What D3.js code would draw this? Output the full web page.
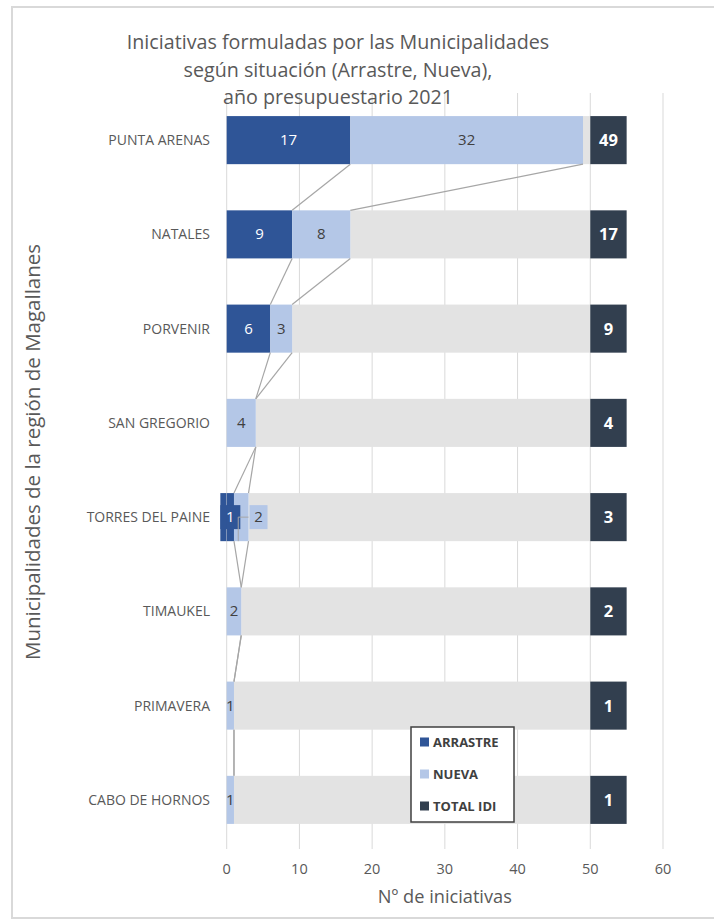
<!DOCTYPE html>
<html>
<head>
<meta charset="utf-8">
<script src="https://cdn.jsdelivr.net/npm/d3@7"></script>
<style>
  body { margin: 0; background: #fff; }
  svg { font-family: "Open Sans", Lato, sans-serif; }
</style>
</head>
<body>
<svg id="chart" width="714" height="920"></svg>
<script>
// data
const municipios = ['PUNTA ARENAS', 'NATALES', 'PORVENIR', 'SAN GREGORIO',
  'TORRES DEL PAINE', 'TIMAUKEL', 'PRIMAVERA', 'CABO DE HORNOS'];
const arrastre = [17, 9, 6, null, 1, null, null, null];
const nueva = [32, 8, 3, 4, 2, 2, 1, 1];
const totalIdi = [49, 17, 9, 4, 3, 2, 1, 1];
const xTicks = [0, 10, 20, 30, 40, 50, 60];
const titleLines = ['Iniciativas formuladas por las Municipalidades',
  'según situación (Arrastre, Nueva),', 'año presupuestario 2021'];
const legendItems = ['ARRASTRE', 'NUEVA', 'TOTAL IDI'];

const colors = {arrastre: '#2F5597', nueva: '#B4C7E7', relleno: '#E3E3E3', total: '#323F4F'};
const grey = '#595959';

const svg = d3.select('#chart');

// chart border
svg.append('rect')
  .attr('x', 12).attr('y', 7)
  .attr('width', 720).attr('height', 911)
  .attr('fill', '#fff')
  .attr('stroke', '#d9d9d9')
  .attr('stroke-width', 2);

const x = d3.scaleLinear().domain([0, 60]).range([226.7, 663]);
const y = d3.scaleBand().domain(municipios).range([93, 847]).paddingInner(0.49).paddingOuter(0.245);
const bh = y.bandwidth();

// rows
const rows = municipios.map((m, i) => {
  const a = arrastre[i] || 0;
  return {m, a, aNull: arrastre[i] == null, n: nueva[i], t: totalIdi[i], endA: a, endN: a + nueva[i]};
});

// gridlines
svg.append('g')
  .selectAll('line')
  .data(xTicks)
  .enter()
  .append('line')
  .attr('x1', d => x(d)).attr('x2', d => x(d))
  .attr('y1', 93).attr('y2', 849)
  .attr('stroke', '#d9d9d9')
  .attr('stroke-width', 1);

// tick labels
svg.append('g')
  .selectAll('text')
  .data(xTicks)
  .enter()
  .append('text')
  .attr('x', d => x(d))
  .attr('y', 874)
  .attr('text-anchor', 'middle')
  .attr('font-size', 14.5)
  .attr('fill', grey)
  .text(d => d);

// filler bars (total up to 50)
svg.append('g')
  .selectAll('rect')
  .data(rows)
  .enter()
  .append('rect')
  .attr('x', d => x(d.endN))
  .attr('width', d => x(50) - x(d.endN))
  .attr('y', d => y(d.m))
  .attr('height', bh)
  .attr('fill', colors.relleno);

// arrastre
svg.append('g')
  .selectAll('rect')
  .data(rows.filter(d => !d.aNull))
  .enter()
  .append('rect')
  .attr('x', x(0))
  .attr('width', d => x(d.a) - x(0))
  .attr('y', d => y(d.m))
  .attr('height', bh)
  .attr('fill', colors.arrastre);

// nueva
svg.append('g')
  .selectAll('rect')
  .data(rows)
  .enter()
  .append('rect')
  .attr('x', d => x(d.a))
  .attr('width', d => x(d.endN) - x(d.a))
  .attr('y', d => y(d.m))
  .attr('height', bh)
  .attr('fill', colors.nueva);

// total idi bar from 50 to 55
svg.append('g')
  .selectAll('rect')
  .data(rows)
  .enter()
  .append('rect')
  .attr('x', x(50))
  .attr('width', x(55) - x(50))
  .attr('y', d => y(d.m))
  .attr('height', bh)
  .attr('fill', colors.total);

// series lines: a blank arrastre carries on to the nueva end
const seriesLines = [];
for (let i = 0; i < rows.length - 1; i++) {
  const r0 = rows[i], r1 = rows[i + 1];
  const a0 = r0.aNull ? r0.endN : r0.endA;
  const a1 = r1.aNull ? r1.endN : r1.endA;
  seriesLines.push({x0: a0, x1: a1, i});
  seriesLines.push({x0: r0.endN, x1: r1.endN, i});
}
svg.append('g')
  .selectAll('line')
  .data(seriesLines)
  .enter()
  .append('line')
  .attr('x1', d => x(d.x0))
  .attr('x2', d => x(d.x1))
  .attr('y1', d => y(municipios[d.i]) + bh)
  .attr('y2', d => y(municipios[d.i + 1]))
  .attr('stroke', '#a6a6a6')
  .attr('stroke-width', 1.2);

// data labels
const labels = svg.append('g').attr('font-size', 15);
rows.forEach(d => {
  const cy = y(d.m) + bh / 2 + 5;
  const torres = d.m === 'TORRES DEL PAINE';
  if (!d.aNull) {
    const cx = x(d.a / 2);
    if (torres) {
      svg.append('rect').attr('x', cx - 10).attr('y', y(d.m))
        .attr('width', 6).attr('height', bh).attr('fill', colors.arrastre);
      labels.append('rect').attr('x', cx - 10).attr('y', cy - 17)
        .attr('width', 20).attr('height', 24).attr('fill', colors.arrastre);
    }
    labels.append('text')
      .attr('x', cx).attr('y', cy)
      .attr('text-anchor', 'middle')
      .attr('fill', '#fff')
      .text(d.a);
  }
  let nx = x(d.a + d.n / 2);
  if (torres) {
    nx = x(d.endN) + 10;
    labels.append('path')
      .attr('d', `M${x(d.a + d.n / 2) - 3},${y(d.m) + bh}V${cy - 5}H${nx - 10}`)
      .attr('fill', 'none').attr('stroke', '#a6a6a6');
    labels.append('rect').attr('x', nx - 9).attr('y', cy - 17)
      .attr('width', 18).attr('height', 24).attr('fill', colors.nueva);
  }
  labels.append('text')
    .attr('x', nx).attr('y', cy)
    .attr('text-anchor', 'middle')
    .attr('fill', '#404040')
    .text(d.n);
  labels.append('text')
    .attr('x', x(52.5)).attr('y', cy + 1)
    .attr('text-anchor', 'middle')
    .attr('font-size', 16.5)
    .attr('font-weight', 'bold')
    .attr('fill', '#fff')
    .text(d.t);
});

// category labels
svg.append('g')
  .selectAll('text')
  .data(municipios)
  .enter()
  .append('text')
  .attr('x', 210)
  .attr('y', d => y(d) + bh / 2 + 5)
  .attr('text-anchor', 'end')
  .attr('font-size', 14)
  .attr('fill', grey)
  .text(d => d);

// title
svg.append('g')
  .selectAll('text')
  .data(titleLines)
  .enter()
  .append('text')
  .attr('x', 338)
  .attr('y', (d, i) => 49 + i * 27.5)
  .attr('text-anchor', 'middle')
  .attr('font-size', 19.7)
  .attr('fill', grey)
  .text(d => d);

// axis titles
svg.append('text')
  .attr('x', x(30)).attr('y', 903)
  .attr('text-anchor', 'middle')
  .attr('font-size', 18.2)
  .attr('fill', grey)
  .text('Nº de iniciativas');

svg.append('text')
  .attr('transform', 'translate(40,452) rotate(-90)')
  .attr('text-anchor', 'middle')
  .attr('font-size', 20.5)
  .attr('fill', grey)
  .text('Municipalidades de la región de Magallanes');

// legend
const legend = svg.append('g');
legend.append('rect')
  .attr('x', 411).attr('y', 727)
  .attr('width', 103).attr('height', 95)
  .attr('fill', '#fff')
  .attr('stroke', '#404040')
  .attr('stroke-width', 1.5);
const legendColors = [colors.arrastre, colors.nueva, colors.total];
legend.selectAll('g.item')
  .data(legendItems)
  .enter()
  .append('g')
  .attr('class', 'item')
  .each(function(d, i) {
    const g = d3.select(this);
    const cy = 742 + i * 32;
    g.append('rect').attr('x', 420).attr('y', cy - 4.5)
      .attr('width', 9).attr('height', 9).attr('fill', legendColors[i]);
    g.append('text').attr('x', 433).attr('y', cy + 5)
      .attr('font-size', 13).attr('font-weight', 'bold')
      .attr('fill', '#404040').text(d);
  });
</script>
</body>
</html>
